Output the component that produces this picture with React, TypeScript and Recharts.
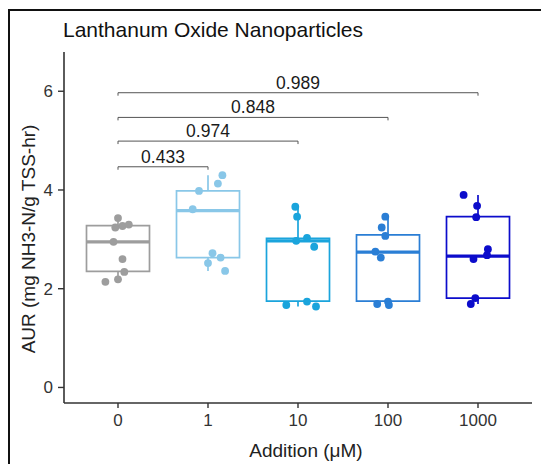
import React from 'react';
import {
  ComposedChart,
  XAxis,
  YAxis,
  Scatter,
  ReferenceArea,
  ReferenceLine,
  Customized,
} from 'recharts';

// Addition levels (µM) shown on the x axis
const categories = ['0', '1', '10', '100', '1000'];

// AUR replicate values per addition level (mg NH3-N/g TSS-hr)
const aur0 = [3.43, 3.24, 3.27, 3.3, 2.95, 2.6, 2.34, 2.19, 2.14];
const aur1 = [4.3, 4.13, 3.98, 3.61, 2.72, 2.63, 2.52, 2.36];
const aur10 = [3.66, 3.46, 3.03, 2.97, 2.85, 1.74, 1.67, 1.64];
const aur100 = [3.46, 3.24, 3.07, 2.75, 2.63, 1.74, 1.69, 1.67];
const aur1000 = [3.9, 3.68, 3.45, 2.8, 2.68, 2.6, 1.81, 1.69];

// Horizontal jitter of each replicate, in category units
const jitter0 = [0.0, -0.03, 0.05, 0.12, -0.05, 0.05, 0.07, 0.0, -0.14];
const jitter1 = [0.16, 0.11, -0.1, -0.17, 0.05, 0.14, 0.0, 0.19];
const jitter10 = [-0.03, -0.01, 0.1, -0.02, 0.18, 0.1, -0.13, 0.2];
const jitter100 = [-0.03, -0.07, -0.03, -0.14, -0.08, 0.0, -0.12, 0.01];
const jitter1000 = [-0.16, -0.01, -0.02, 0.11, 0.1, -0.05, -0.03, -0.08];

// Box-plot summary per addition level
const boxQ1 = [2.35, 2.63, 1.75, 1.75, 1.81];
const boxMedian = [2.95, 3.58, 2.97, 2.74, 2.66];
const boxQ3 = [3.28, 3.98, 3.02, 3.09, 3.46];
const whiskerLow = [2.14, 2.36, 1.64, 1.67, 1.69];
const whiskerHigh = [3.43, 4.3, 3.66, 3.46, 3.9];

// Pairwise comparisons against the 0 µM control
const compareTo = ['1', '10', '100', '1000'];
const pValues = ['0.433', '0.974', '0.848', '0.989'];
const bracketY = [4.47, 4.99, 5.47, 5.97];

const groupValues = [aur0, aur1, aur10, aur100, aur1000];
const groupJitter = [jitter0, jitter1, jitter10, jitter100, jitter1000];
const colors = ['#9d9d9d', '#89c7e8', '#1aa4dc', '#2a7ed5', '#0c0ccb'];

const FONT = '"Liberation Sans", Arial, Helvetica, sans-serif';
const BOX_HALF = 0.35;
const TIP = 0.06;

const pos = (cat: string) => categories.indexOf(cat) + 1;

const groupPoints = groupValues.map((vals, i) =>
  vals.map((v, j) => ({ x: i + 1 + groupJitter[i][j], y: v }))
);

export default function App() {
  return (
    <div style={{ position: 'relative', width: 541, height: 456, overflow: 'hidden', background: '#fff' }}>
      <div
        style={{
          position: 'absolute',
          left: 0,
          top: 1,
          width: 600,
          height: 500,
          borderLeft: '2px solid #111',
          borderTop: '2px solid #111',
          pointerEvents: 'none',
        }}
      />
      <ComposedChart
        width={541}
        height={456}
        margin={{ top: 44, right: 17, bottom: 0, left: 0 }}
        style={{ fontFamily: FONT }}
      >
        <XAxis
          dataKey="x"
          type="number"
          domain={[0.4, 5.6]}
          ticks={[1, 2, 3, 4, 5]}
          tickFormatter={(v: number) => categories[v - 1]}
          allowDataOverflow
          height={61}
          tickSize={5}
          tickMargin={6}
          stroke="#333"
          axisLine={{ stroke: '#333', strokeWidth: 1.6 }}
          tickLine={{ stroke: '#333', strokeWidth: 1.4 }}
          tick={{ fill: '#333', fontSize: 17, fontFamily: FONT }}
          label={{
            content: () => (
              <text x={298} y={449} textAnchor="middle" fontSize={19} fill="#222" fontFamily={FONT}>
                Addition (μM)
              </text>
            ),
          }}
        />
        <YAxis
          dataKey="y"
          type="number"
          domain={[-0.315, 6.795]}
          ticks={[0, 2, 4, 6]}
          allowDataOverflow
          width={56}
          tickSize={6}
          tickMargin={5}
          stroke="#333"
          axisLine={{ stroke: '#333', strokeWidth: 1.6 }}
          tickLine={{ stroke: '#333', strokeWidth: 1.4 }}
          tick={{ fill: '#333', fontSize: 17, fontFamily: FONT }}
          label={{
            content: () => (
              <text
                transform="translate(20,231) rotate(-90)"
                textAnchor="middle"
                dominantBaseline="central"
                fontSize={19}
                fill="#222"
                fontFamily={FONT}
              >
                AUR (mg NH3-N/g TSS-hr)
              </text>
            ),
          }}
        />

        {/* boxes, medians and whiskers */}
        {categories.map((c, i) => (
          <ReferenceArea
            key={`box-${c}`}
            x1={i + 1 - BOX_HALF}
            x2={i + 1 + BOX_HALF}
            y1={boxQ1[i]}
            y2={boxQ3[i]}
            fill="none"
            fillOpacity={0}
            stroke={colors[i]}
            strokeWidth={1.7}
          />
        ))}
        {categories.map((c, i) => (
          <ReferenceLine
            key={`med-${c}`}
            segment={[
              { x: i + 1 - BOX_HALF, y: boxMedian[i] },
              { x: i + 1 + BOX_HALF, y: boxMedian[i] },
            ]}
            stroke={colors[i]}
            strokeWidth={3.2}
          />
        ))}
        {categories.map((c, i) => (
          <ReferenceLine
            key={`wh-${c}`}
            segment={[
              { x: i + 1, y: boxQ3[i] },
              { x: i + 1, y: whiskerHigh[i] },
            ]}
            stroke={colors[i]}
            strokeWidth={1.7}
          />
        ))}
        {categories.map((c, i) => (
          <ReferenceLine
            key={`wl-${c}`}
            segment={[
              { x: i + 1, y: whiskerLow[i] },
              { x: i + 1, y: boxQ1[i] },
            ]}
            stroke={colors[i]}
            strokeWidth={1.7}
          />
        ))}

        {/* comparison brackets */}
        {compareTo.map((c, k) => (
          <ReferenceLine
            key={`br-${c}`}
            segment={[
              { x: 1, y: bracketY[k] },
              { x: pos(c), y: bracketY[k] },
            ]}
            stroke="#555"
            strokeWidth={1}
            label={{ value: pValues[k], position: 'top', offset: 4, fontSize: 17.5, fill: '#1a1a1a', fontFamily: FONT }}
          />
        ))}
        {compareTo.map((c, k) => (
          <ReferenceLine
            key={`brl-${c}`}
            segment={[
              { x: 1, y: bracketY[k] - TIP },
              { x: 1, y: bracketY[k] },
            ]}
            stroke="#555"
            strokeWidth={1}
          />
        ))}
        {compareTo.map((c, k) => (
          <ReferenceLine
            key={`brr-${c}`}
            segment={[
              { x: pos(c), y: bracketY[k] - TIP },
              { x: pos(c), y: bracketY[k] },
            ]}
            stroke="#555"
            strokeWidth={1}
          />
        ))}

        {/* replicate points */}
        {categories.map((c, i) => (
          <Scatter
            key={`pts-${c}`}
            data={groupPoints[i]}
            dataKey="y"
            isAnimationActive={false}
            shape={(p: any) => <circle cx={p.cx} cy={p.cy} r={3.9} fill={colors[i]} />}
          />
        ))}

        <Customized
          component={() => (
            <text x={55} y={29} fontSize={21} fill="#111" fontFamily={FONT}>
              Lanthanum Oxide Nanoparticles
            </text>
          )}
        />
      </ComposedChart>
    </div>
  );
}
